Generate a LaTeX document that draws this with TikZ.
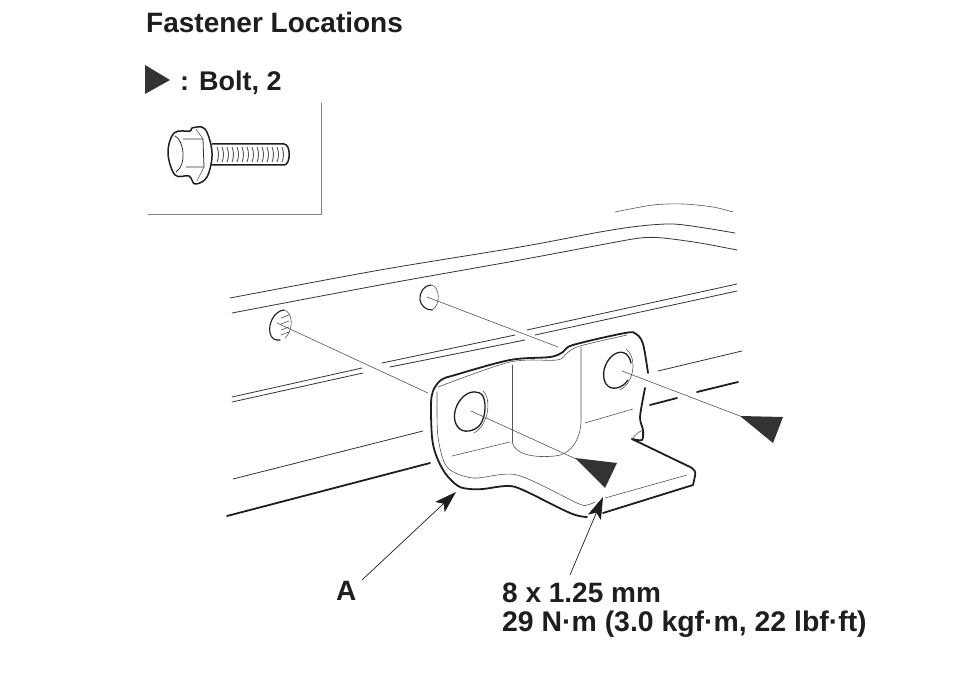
\documentclass[tikz,border=0pt]{standalone}
\usepackage{fontspec}
\setmainfont{Liberation Sans}
\usetikzlibrary{arrows.meta}
\definecolor{inkdark}{HTML}{1E1E1E}
\definecolor{inkbody}{HTML}{333333}
\definecolor{inkthin}{HTML}{555555}
\tikzset{
  heavyline/.style={inkdark,line width=1.8pt,line cap=round,line join=round},
  bodyline/.style={inkbody,line width=0.8pt,line cap=round},
  thinline/.style={inkthin,line width=0.6pt,line cap=round},
  boltmark/.style={fill=black!80,draw=none},
  caption/.style={anchor=base west,inner sep=0pt,font=\bfseries\fontsize{28}{30}\selectfont,text=inkdark},
}
\begin{document}
\begin{tikzpicture}[x=1pt,y=-1pt,>={Stealth[length=22pt,width=14pt,inset=5pt]}]
\useasboundingbox (0,0) rectangle (960,687);

\node[caption] (title) at (146,33) {Fastener Locations};
\filldraw[boltmark] (145,65) -- (170,80) -- (145,94) -- cycle;
\node[caption,font=\bfseries\fontsize{27}{30}\selectfont] (boltkey) at (180,91) {: Bolt, 2};

\draw[gray,line width=0.7pt] (148,214) -- (321,214) -- (321,103);

\draw[heavyline,line width=1.5pt] plot[smooth cycle,tension=0.6] coordinates {(192,128) (205,129) (212,153) (207,177) (195,184) (189,176) (175,175) (168,153) (174,133) (190,131)};
\draw[bodyline] (175,136) .. controls (184,140) and (187,165) .. (176,172);
\draw[bodyline] (183,139) -- (203,139) -- (204,167) -- (186,167);
\draw[thinline] (203,139) -- (196,129);
\draw[thinline] (204,167) -- (197,181);
\draw[heavyline,line width=1.5pt] (212,144) -- (284,144) .. controls (291,144) and (291,165) .. (284,165) -- (212,165);
\foreach \tx in {217,222,...,282}
  \draw[inkthin,line width=0.9pt] (\tx,147) .. controls (\tx+2,152) and (\tx+2,157) .. (\tx,162);

\draw[bodyline] plot[smooth,tension=0.5] coordinates {(230,298) (380,270) (520,247) (600,232) (640,226) (673,224) (705,228) (735,233)};
\draw[bodyline] plot[smooth,tension=0.5] coordinates {(232,313) (380,285) (520,260) (600,245) (640,238) (663,238) (700,243) (737,250)};
\draw[thinline] plot[smooth,tension=0.5] coordinates {(615,212) (653,205) (683,204) (713,207) (733,212)};

\draw[bodyline] (232,397) -- (362,368);
\draw[bodyline] (232,402) -- (363,373);
\draw[bodyline] (382,363) -- (515,335);
\draw[bodyline] (390,367) -- (525,340);
\draw[bodyline] (527,330) -- (737,284);
\draw[bodyline] (535,335) -- (737,291);

\draw[bodyline] (233,479) -- (423,431);
\draw[bodyline] (658,371) -- (742,351);
\draw[heavyline] (227,516) -- (430,463);
\draw[heavyline] (650,405) -- (677,398);
\draw[heavyline] (697,392) -- (738,382);

\draw[heavyline,line width=1.1pt] (284,310) .. controls (274,311) and (268,324) .. (270,333) .. controls (271,338) and (275,341) .. (280,340);
\draw[thinline] (284,310) .. controls (293,312) and (294,330) .. (285,338);
\foreach \ty in {318,324,330,335}
  \draw[thinline] (281,\ty) -- (289,\ty-3);
\draw[heavyline,line width=1.1pt] (431,285) .. controls (424,285) and (419,293) .. (420,300) .. controls (421,306) and (426,310) .. (432,310);
\draw[thinline] (431,285) .. controls (440,286) and (441,305) .. (432,310);

\draw[thinline] (277,323) -- (428,393);
\draw[thinline] (427,297) -- (558,347);

\draw[heavyline] plot[smooth,tension=0.55] coordinates {(587,517) (570,513) (523,490) (507,486) (483,489) (470,489) (458,486) (445,473) (436,455) (432,437) (431,405) (433,391) (441,380) (455,375) (510,360) (550,357) (563,352) (573,345) (625,333) (636,334) (643,344) (648,373)};
\draw[heavyline] plot[smooth,tension=0.45] coordinates {(645,388) (640,417) (643,430) (642,440) (632,439)};
\draw[heavyline] (632,439) -- (688,466) .. controls (695,469) and (696,472) .. (695,476) -- (693,485) -- (603,513);

\draw[thinline] plot[smooth,tension=0.5] coordinates {(438,387) (510,362) (557,360) (567,353) (580,346) (627,335)};
\draw[thinline] plot[smooth,tension=0.5] coordinates {(437,392) (437,400) (438,437) (447,467) (473,478) (517,475) (577,503) (587,505) (595,502)};
\draw[thinline] (605,498) -- (687,475);
\draw[thinline] (632,439) .. controls (636,433) and (641,431) .. (643,430);

\draw[thinline] (512,365) -- (512,442);
\draw[thinline] (581,347) -- (581,420) .. controls (581,440) and (570,455) .. (555,456) .. controls (535,458) and (515,455) .. (512,442);
\draw[thinline] (452,456) -- (510,442);
\draw[thinline] (585,423) -- (633,409);

\draw[heavyline,line width=1.3pt] (483,396) .. controls (479,390) and (470,391) .. (464,396) .. controls (456,403) and (452,415) .. (456,424) .. controls (460,433) and (470,433) .. (478,427) .. controls (485,421) and (487,405) .. (483,396);
\draw[thinline] (483,391) .. controls (491,397) and (490,424) .. (474,433);
\draw[heavyline,line width=1.3pt] (631,363) .. controls (629,352) and (620,349) .. (612,356) .. controls (604,363) and (601,376) .. (606,384) .. controls (611,391) and (622,389) .. (628,380);
\draw[thinline] (626,349) .. controls (637,357) and (635,382) .. (620,390);

\draw[thinline] (471,411) -- (576,459);
\draw[thinline] (622,371) -- (740,416);
\filldraw[boltmark] (575,458) -- (617,463) -- (605,488) -- cycle;
\filldraw[boltmark] (740,416) -- (783,417) -- (773,443) -- cycle;

\node[caption] (partA) at (336,600) {A};
\node[caption] (torque) at (502,602) {8 x 1.25 mm};
\node[caption,font=\bfseries\fontsize{28.4}{30}\selectfont] (torquetwo) at (502,631) {29 N·m (3.0 kgf·m, 22 lbf·ft)};

\coordinate (startA) at (362,580);
\coordinate (tipA) at (456,492);
\coordinate (startB) at (570,575);
\coordinate (tipB) at (603,497);
\draw[->,inkdark,line width=0.7pt] (startA) -- (tipA);
\draw[->,inkdark,line width=0.7pt] (startB) -- (tipB);
\end{tikzpicture}
\end{document}
